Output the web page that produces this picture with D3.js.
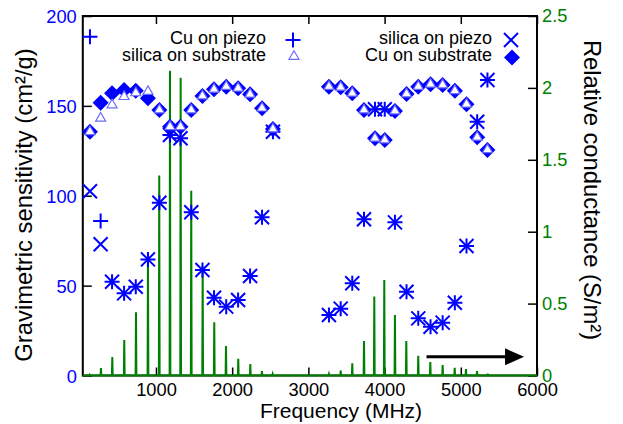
<!DOCTYPE html>
<html><head><meta charset="utf-8">
<script src="https://cdn.jsdelivr.net/npm/d3@7"></script>
<style>
html,body{margin:0;padding:0;background:#fff;}
svg{display:block;font-family:"Liberation Sans",Arial,sans-serif;}
</style></head>
<body>
<script>
// ---------- data ----------
const markerFreq = [134, 274, 424, 582, 735, 895, 1045, 1184, 1322, 1463, 1610, 1762, 1922, 2078, 2235, 2392, 2535,
  3270, 3424, 3576, 3730, 3874, 4002, 4136, 4288, 4442, 4603, 4762, 4922, 5075, 5215, 5350];
const cuOnPiezo = [188.5, 86, 52.2, 45.7, 49.4, 64.6, 96.1, 133.8, 132.0, 90.8, 58.7, 43.3, 38.3, 42.0, 55.4, 88.0, 135.6,
  33.7, 37.2, 51.3, 86.9, 148.1, 148.1, 85.2, 46.6, 31.8, 27.1, 29.4, 40.5, 72.0, 141.2, 164.4];
const silicaOnPiezo = [102.5, 73, 52.2, 45.7, 49.4, 64.6, 96.1, 133.8, 132.0, 90.8, 58.7, 43.3, 38.3, 42.0, 55.4, 88.0, 135.6,
  33.7, 37.2, 51.3, 86.9, 148.1, 148.1, 85.2, 46.6, 31.8, 27.1, 29.4, 40.5, 72.0, 141.2, 164.4];
const cuOnSubstrate = [135.6, 151.8, 157.0, 158.8, 158.4, 154.2, 147.7, 138.4, 138.4, 147.7, 155.5, 159.2, 160.7, 159.8, 156.4, 148.7, 137.1,
  160.7, 160.3, 157.0, 147.7, 132.0, 131.0, 147.1, 156.6, 160.7, 162.0, 161.6, 158.4, 150.9, 132.5, 125.5];
const silicaOnSubstrate = [135.6, 143.1, 150.5, 155.1, 157.2, 157.9, 147.7, 138.4, 138.4, 147.7, 155.5, 159.2, 160.7, 159.8, 156.4, 148.7, 137.1,
  160.7, 160.3, 157.0, 147.7, 132.0, 131.0, 147.1, 156.6, 160.7, 162.0, 161.6, 158.4, 150.9, 132.5, 125.5];

const condFreq = [130, 278, 427, 584, 738, 895, 1043, 1184, 1324, 1463, 1613, 1765, 1919, 2080, 2238, 2391, 2531,
  3270, 3424, 3576, 3730, 3865, 3996, 4136, 4285, 4442, 4600, 4762, 4920, 5068, 5213, 5353];
const condValue = [0.005, 0.052, 0.128, 0.247, 0.44, 0.82, 1.39, 2.12, 2.07, 1.285, 0.76, 0.37, 0.205, 0.117, 0.08, 0.03, 0.01,
  0.01, 0.035, 0.085, 0.24, 0.55, 0.664, 0.42, 0.24, 0.138, 0.094, 0.073, 0.054, 0.045, 0.031, 0.012];

const xTicks = [1000, 2000, 3000, 4000, 5000, 6000];
const yTicks = [0, 50, 100, 150, 200];
const y2Ticks = [0, 0.5, 1, 1.5, 2, 2.5];
const legendLabels = ["Cu on piezo", "silica on piezo", "silica on substrate", "Cu on substrate"];
const arrowFreq = [4550, 5830];
const arrowLevel = 0.13;

// ---------- setup ----------
const W = 623, H = 424;
const L = 82.8, R = 537, T = 16, B = 375.5;
const BLUE = "#0000ff", GREEN = "#008000";
const svg = d3.select("body").append("svg").attr("width", W).attr("height", H);

const x = d3.scaleLinear().domain([40, 6000]).range([L, R]);
const y = d3.scaleLinear().domain([0, 200]).range([B, T]);
const y2 = d3.scaleLinear().domain([0, 2.5]).range([B, T]);

// frame
svg.append("rect").attr("x", L).attr("y", T).attr("width", R - L).attr("height", B - T)
  .attr("fill", "none").attr("stroke", "#000").attr("stroke-width", 2);

const TICKFS = 18.3;
// axes
const gx = svg.append("g").attr("transform", `translate(0,${B})`)
  .call(d3.axisBottom(x).tickValues(xTicks).tickSizeInner(-8).tickSizeOuter(0).tickPadding(0).tickFormat(d3.format("d")));
gx.selectAll("text").attr("y", 20).attr("dy", null).attr("font-size", TICKFS).attr("fill", "#000");
const gxt = svg.append("g").attr("transform", `translate(0,${T})`)
  .call(d3.axisTop(x).tickValues(xTicks).tickSizeInner(-8).tickSizeOuter(0).tickFormat(""));
const gy = svg.append("g").attr("transform", `translate(${L},0)`)
  .call(d3.axisLeft(y).tickValues(yTicks).tickSizeInner(-9).tickSizeOuter(0).tickPadding(0));
gy.selectAll("text").attr("x", -6).attr("dy", "0.36em").attr("font-size", TICKFS).attr("fill", BLUE);
const gy2 = svg.append("g").attr("transform", `translate(${R},0)`)
  .call(d3.axisRight(y2).tickValues(y2Ticks).tickSizeInner(-9).tickSizeOuter(0).tickPadding(0).tickFormat(d => d3.format("")(d)));
gy2.selectAll("text").attr("x", 5).attr("dy", "0.3em").attr("font-size", TICKFS).attr("fill", GREEN);
[gx, gxt, gy, gy2].forEach(g => {
  g.select(".domain").remove();
  g.selectAll("line").attr("stroke", "#000").attr("stroke-width", 1.5);
  g.attr("font-family", null);
});

// axis titles
svg.append("text").attr("x", 341).attr("y", 417.5).attr("text-anchor", "middle")
  .attr("font-size", 21).text("Frequency (MHz)");
svg.append("text").attr("transform", "translate(32,205) rotate(-90)").attr("text-anchor", "middle")
  .attr("font-size", 23.8).text("Gravimetric sensitivity (cm²/g)");
svg.append("text").attr("transform", "translate(584,190) rotate(90)").attr("text-anchor", "middle")
  .attr("font-size", 23.8).text("Relative conductance (S/m²)");

// conductance spectrum
const halfW = 5;
const specPts = [[40, 0]];
condFreq.forEach((f, i) => { specPts.push([f - halfW, 0], [f, condValue[i]], [f + halfW, 0]); });
specPts.push([6000, 0]);
svg.append("path").attr("d", d3.line().x(d => x(d[0])).y(d => y2(d[1]))(specPts))
  .attr("fill", "none").attr("stroke", GREEN).attr("stroke-width", 2).attr("stroke-linejoin", "miter");

// marker shapes
const plusP = "M-7.5,0H7.5M0,-7.5V7.5";
const crossP = "M-7,-7L7,7M-7,7L7,-7";
const diamP = "M0,-8L8,0L0,8L-8,0Z";
const triP = "M0,-5.8L5,2.8L-5,2.8Z";

function drawSeries(vals, path, style) {
  const g = svg.append("g");
  g.selectAll("path").data(markerFreq).join("path")
    .attr("transform", (f, i) => `translate(${x(f)},${y(vals[i])})`)
    .attr("d", path).call(style);
}
const strokeStyle = s => s.attr("fill", "none").attr("stroke", BLUE).attr("stroke-width", 2);
const diamStyle = s => s.attr("fill", BLUE).attr("stroke", "none");
const triStyle = s => s.attr("fill", "#fff").attr("stroke", "#6b6bff").attr("stroke-width", 1.2);

drawSeries(cuOnPiezo, plusP, strokeStyle);
drawSeries(silicaOnPiezo, crossP, strokeStyle);
drawSeries(cuOnSubstrate, diamP, diamStyle);
drawSeries(silicaOnSubstrate, triP, triStyle);

// legend
const lg = svg.append("g").attr("font-size", 18);
const legendItems = [
  {label: legendLabels[0], tx: 266, ty: 44, mx: 293, my: 40, p: plusP, st: strokeStyle},
  {label: legendLabels[1], tx: 492, ty: 44, mx: 511, my: 40, p: crossP, st: strokeStyle},
  {label: legendLabels[2], tx: 266, ty: 61, mx: 294, my: 56.5, p: triP, st: triStyle},
  {label: legendLabels[3], tx: 492, ty: 61, mx: 512, my: 57.5, p: diamP, st: diamStyle}
];
legendItems.forEach(d => {
  lg.append("text").attr("x", d.tx).attr("y", d.ty).attr("text-anchor", "end").text(d.label);
  lg.append("path").attr("transform", `translate(${d.mx},${d.my})`).attr("d", d.p).call(d.st);
});

// arrow
const ay = y2(arrowLevel);
const headLen = 19, headHalf = 8.5;
svg.append("line").attr("x1", x(arrowFreq[0])).attr("x2", x(arrowFreq[1]) - headLen + 1)
  .attr("y1", ay).attr("y2", ay).attr("stroke", "#000").attr("stroke-width", 3);
svg.append("path").attr("d", `M${x(arrowFreq[1])},${ay}L${x(arrowFreq[1]) - headLen},${ay - headHalf}L${x(arrowFreq[1]) - headLen},${ay + headHalf}Z`)
  .attr("fill", "#000");
</script>
</body></html>
